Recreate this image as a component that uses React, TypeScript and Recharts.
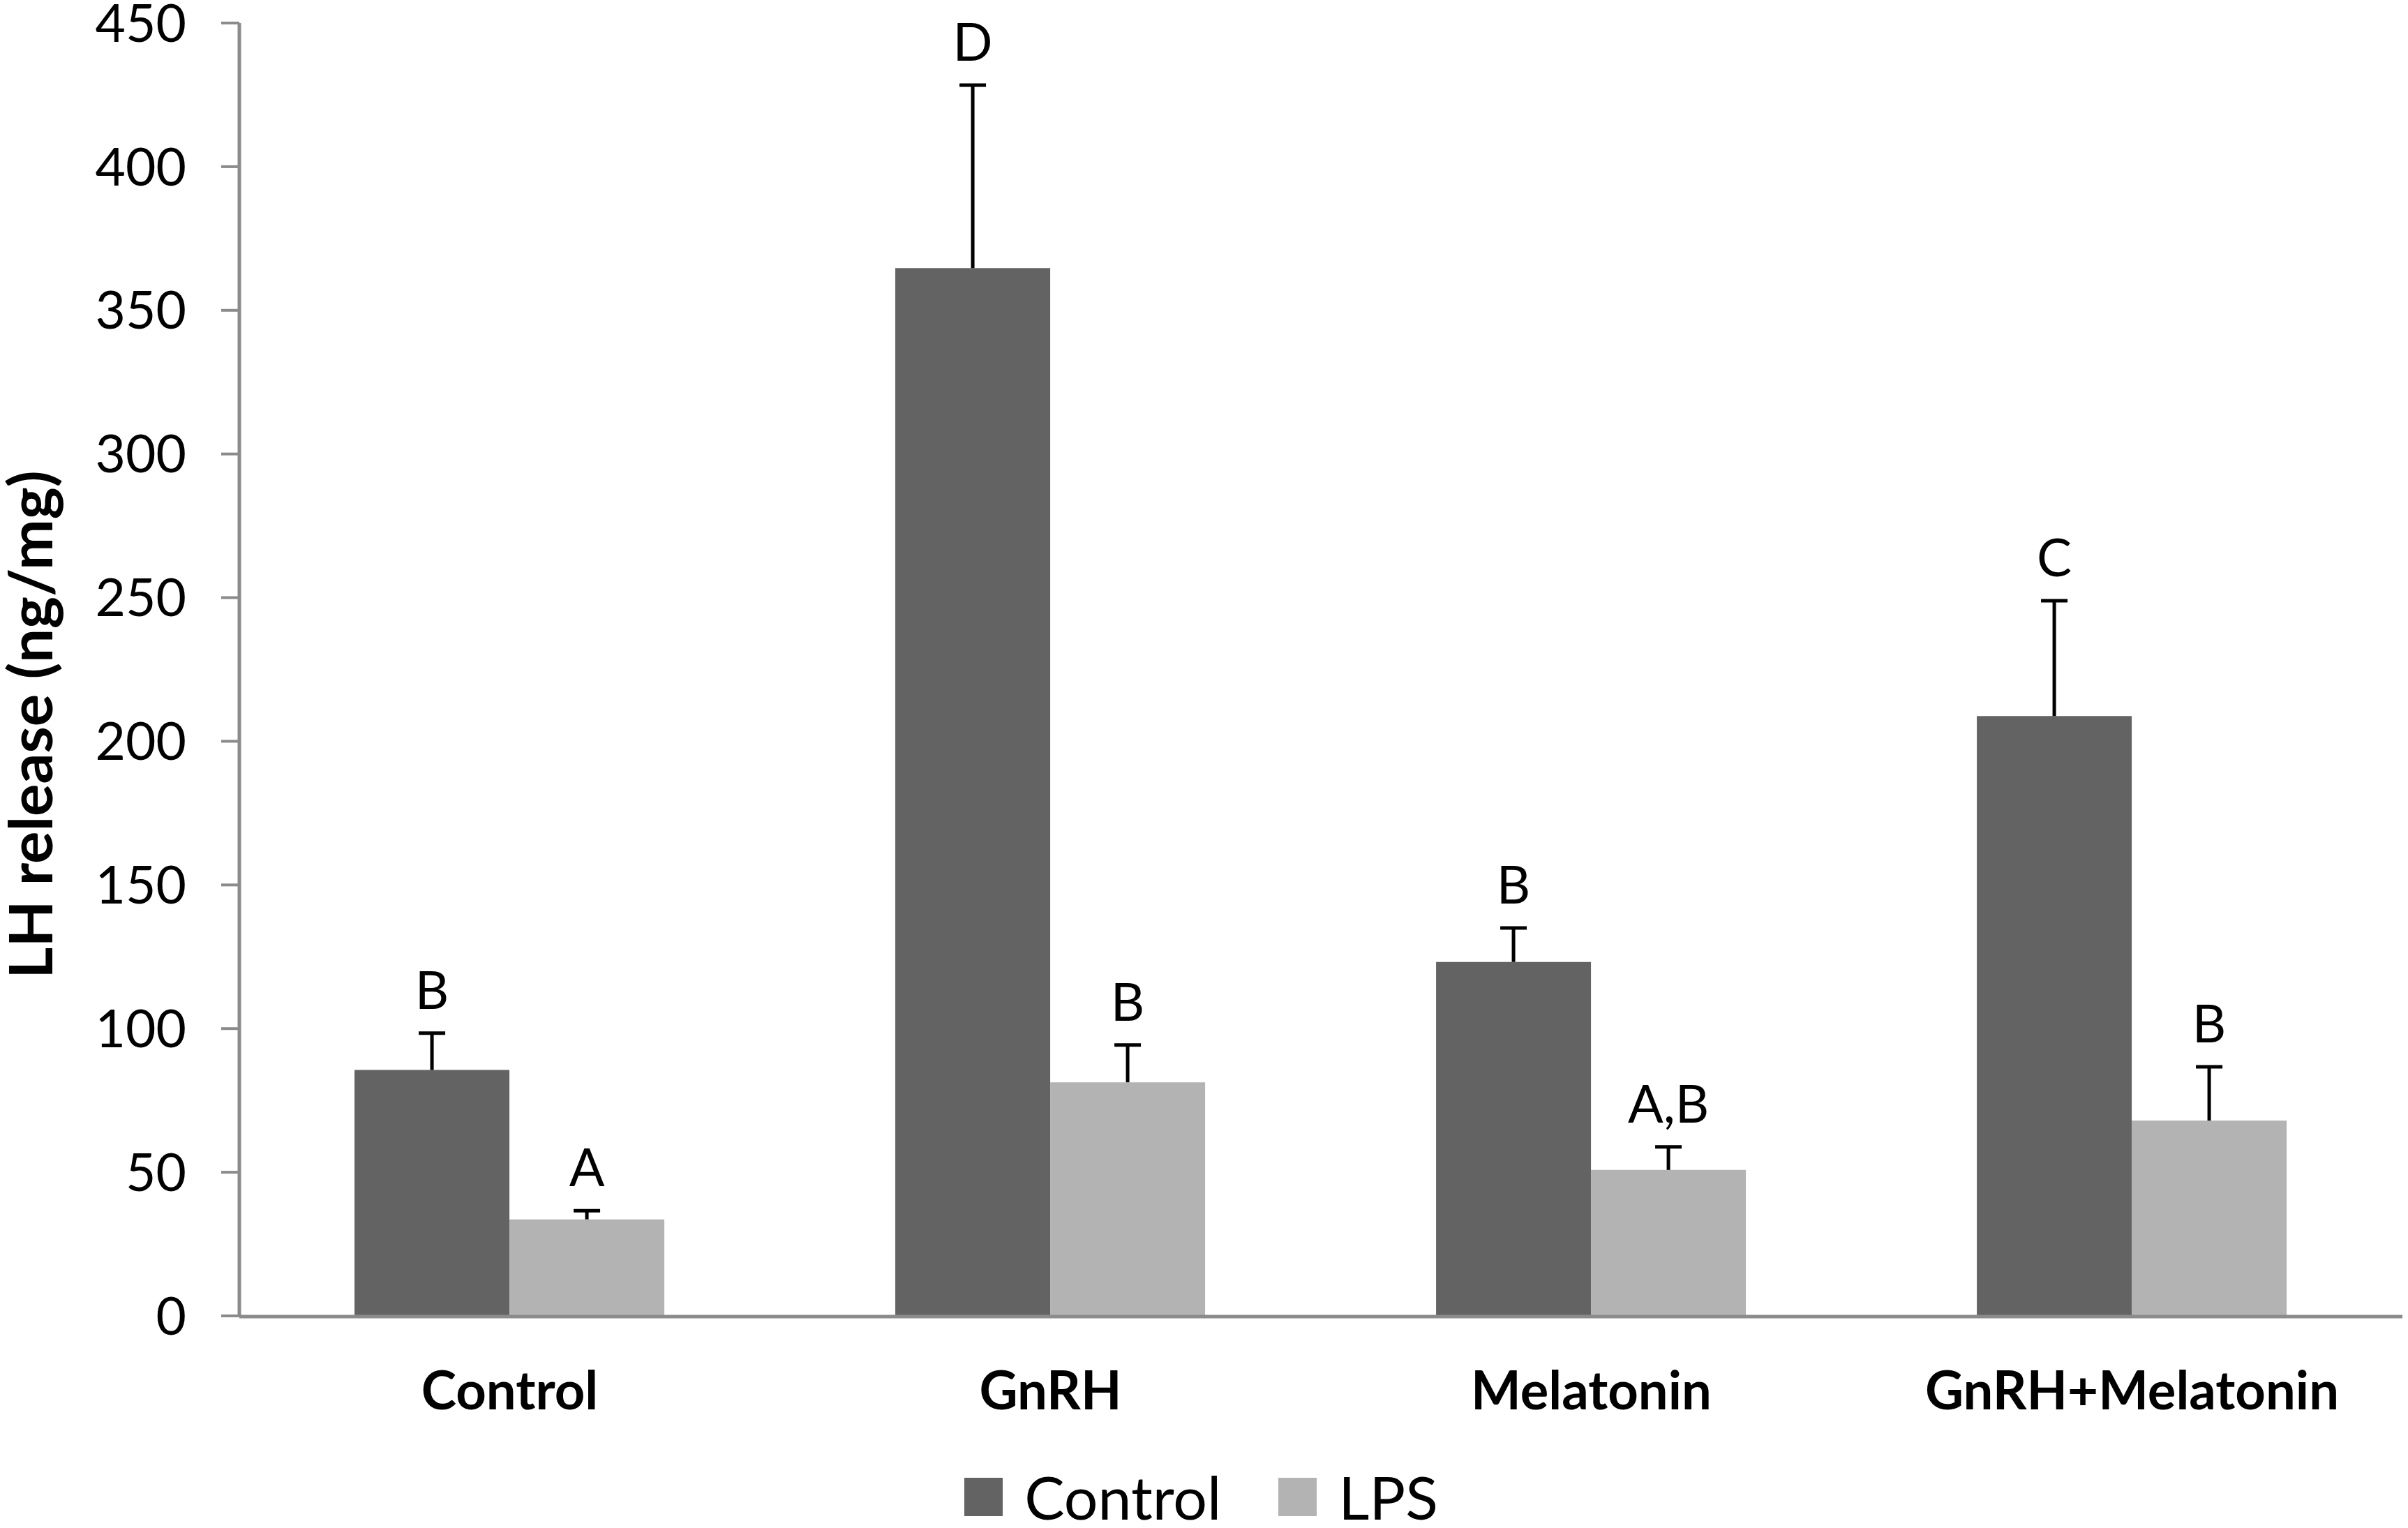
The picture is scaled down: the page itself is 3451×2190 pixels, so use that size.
import React from 'react';
import { BarChart, Bar, XAxis, YAxis, Legend, LabelList, Label } from 'recharts';

const groups = ['Control', 'GnRH', 'Melatonin', 'GnRH+Melatonin'];
const controlValues = [85.6, 364.7, 123.2, 208.8];
const controlErrors = [12.8, 63.7, 11.8, 40.1];
const lpsValues = [33.6, 81.3, 50.8, 68.0];
const lpsErrors = [3.0, 13.0, 8.0, 18.7];
const controlLetters = ['B', 'D', 'B', 'C'];
const lpsLetters = ['A', 'B', 'A,B', 'B'];
const yTicks = [0, 50, 100, 150, 200, 250, 300, 350, 400, 450];
const edgeTicks = [0, 1, 2, 3, 4];

const data = groups.map((g, i) => ({
  group: g,
  control: controlValues[i],
  controlErr: controlErrors[i],
  lps: lpsValues[i],
  lpsErr: lpsErrors[i],
  controlLetter: controlLetters[i],
  lpsLetter: lpsLetters[i],
}));

const DARK = '#636363';
const LIGHT = '#b3b3b3';
const AXIS = '#8b8b8b';
const FONT = 'Lato, "Open Sans", sans-serif';

const ErrorShape = (props: any) => {
  const { x, y, width, height } = props;
  if (x == null || y == null) return null;
  const cx = x + width / 2;
  return (
    <g>
      <line x1={cx} x2={cx} y1={y + height} y2={y} stroke="#000" strokeWidth={5} />
      <line x1={cx - 19} x2={cx + 19} y1={y} y2={y} stroke="#000" strokeWidth={5} />
    </g>
  );
};

const renderLegend = (props: any) => {
  const items = (props.payload || []).filter((p: any) => p.type !== 'none');
  return (
    <div
      style={{
        display: 'flex',
        justifyContent: 'center',
        alignItems: 'center',
        height: 70,
        fontFamily: FONT,
        fontSize: 86,
        color: '#000',
      }}
    >
      {items.map((it: any, i: number) => (
        <div key={i} style={{ display: 'flex', alignItems: 'center', marginLeft: i ? 82 : 0 }}>
          <svg width={55} height={55} style={{ display: 'block' }}>
            <rect width={55} height={55} fill={it.color} />
          </svg>
          <span style={{ marginLeft: 31, lineHeight: '70px' }}>{it.value}</span>
        </div>
      ))}
    </div>
  );
};

const renderYLabel = (props: any) => {
  const vb = props.viewBox || { x: 0, y: 33, width: 343, height: 1853 };
  const cx = vb.x + 44;
  const cy = vb.y + vb.height / 2 + 79;
  return (
    <text
      x={cx}
      y={cy}
      dy="0.36em"
      transform={`rotate(-90, ${cx}, ${cy})`}
      textAnchor="middle"
      fontFamily={FONT}
      fontWeight="bold"
      fontSize={87}
      fill="#000"
    >
      LH release (ng/mg)
    </text>
  );
};

export default function App() {
  return (
    <div style={{ position: 'absolute', left: 0, top: 0, width: 3451, height: 2190, background: '#fff' }}>
      <BarChart
        width={3451}
        height={2190}
        data={data}
        margin={{ top: 33, right: 8, left: 0, bottom: 206 }}
        barCategoryGap="21.3%"
        barGap={0}
      >
        <XAxis
          xAxisId="cat"
          dataKey="group"
          interval={0}
          axisLine={false}
          tickLine={false}
          tickSize={0}
          tickMargin={80}
          height={1}
          tick={{ fontSize: 76, fontWeight: 'bold', fill: '#000', fontFamily: FONT }}
        />
        <XAxis
          xAxisId="edge"
          type="number"
          domain={[0, 4]}
          ticks={edgeTicks}
          allowDataOverflow
          tick={false}
          tickSize={27}
          height={27}
          axisLine={{ stroke: AXIS, strokeWidth: 5 }}
          tickLine={{ stroke: AXIS, strokeWidth: 4 }}
        />
        <YAxis
          domain={[0, 450]}
          ticks={yTicks}
          interval={0}
          width={343}
          tickSize={26}
          tickMargin={50}
          axisLine={{ stroke: AXIS, strokeWidth: 5 }}
          tickLine={{ stroke: AXIS, strokeWidth: 4 }}
          tick={{ fontSize: 75, fill: '#000', fontFamily: FONT }}
          label={<Label content={renderYLabel} />}
        />
        <Legend
          verticalAlign="bottom"
          align="center"
          content={renderLegend}
          wrapperStyle={{ bottom: 10 }}
        />
        <Bar xAxisId="cat" dataKey="control" name="Control" stackId="c" fill={DARK} isAnimationActive={false} />
        <Bar
          xAxisId="cat"
          dataKey="controlErr"
          stackId="c"
          legendType="none"
          fill="none"
          shape={ErrorShape}
          isAnimationActive={false}
        >
          <LabelList
            dataKey="controlLetter"
            position="top"
            offset={35}
            fill="#000"
            fontSize={75}
            fontFamily={FONT}
          />
        </Bar>
        <Bar xAxisId="cat" dataKey="lps" name="LPS" stackId="l" fill={LIGHT} isAnimationActive={false} />
        <Bar
          xAxisId="cat"
          dataKey="lpsErr"
          stackId="l"
          legendType="none"
          fill="none"
          shape={ErrorShape}
          isAnimationActive={false}
        >
          <LabelList
            dataKey="lpsLetter"
            position="top"
            offset={35}
            fill="#000"
            fontSize={75}
            fontFamily={FONT}
          />
        </Bar>
      </BarChart>
    </div>
  );
}
